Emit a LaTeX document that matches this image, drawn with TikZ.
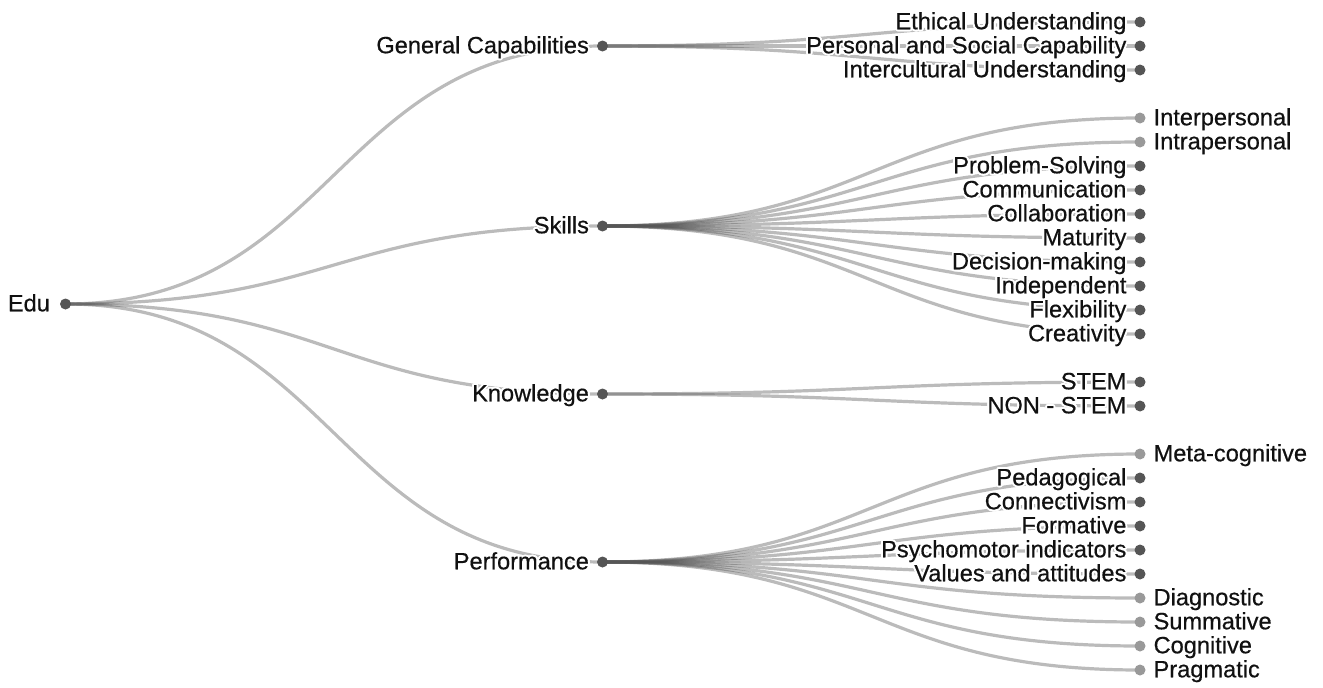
\documentclass[tikz,border=0pt]{standalone}
\usepackage{fontspec}
\setmainfont{Liberation Sans}[BoldFont=Liberation Sans,BoldFeatures={FakeBold=0.5}]
\usepackage{contour}
\contourlength{1.8pt}
\contournumber{24}
\usetikzlibrary{calc}
\definecolor{linkc}{HTML}{555555}
\definecolor{darkdot}{HTML}{555555}
\definecolor{lightdot}{HTML}{999999}
\definecolor{txt}{HTML}{111111}
\pgfdeclarelayer{bg}
\pgfsetlayers{bg,main}
\tikzset{
  dotd/.style={circle,fill=darkdot,inner sep=0pt,minimum size=11pt},
  dotl/.style={circle,fill=lightdot,inner sep=0pt,minimum size=11pt},
  lblfont/.style={font=\fontsize{23.6}{28}\selectfont\bfseries,text=txt,inner sep=0pt},
  lblL/.style={lblfont,anchor=base east,xshift=-13.4pt,yshift=-7.3pt},
  lblR/.style={lblfont,anchor=base west,xshift=13.4pt,yshift=-7.3pt},
  link/.style={draw=linkc,draw opacity=0.4,line width=3.2pt}
}
\newcommand\treelink[2]{\draw[link] let \p1=(#1),\p2=(#2) in (\p1) .. controls ({0.5*\x1+0.5*\x2},\y1) and ({0.5*\x1+0.5*\x2},\y2) .. (\p2);}
\begin{document}
\begin{tikzpicture}[x=1pt,y=-1pt]
\useasboundingbox (0,0) rectangle (1323,688);
% root and level 1
\node[dotd] (edu) at (65.5,304) {};
\node[dotd] (gc) at (602.5,46) {};
\node[dotd] (sk) at (602.5,226) {};
\node[dotd] (kn) at (602.5,394) {};
\node[dotd] (pf) at (602.5,562) {};
% leaves, labels left (dark)
\foreach \nm/\yy/\pa in {eu/22/gc, ps/46/gc, iu/70/gc,
  prs/166/sk, com/190/sk, col/214/sk, mat/238/sk, dec/262/sk, ind/286/sk, fle/310/sk, cre/334/sk,
  stem/382/kn, nstem/406/kn,
  ped/478/pf, con/502/pf, for/526/pf, psy/550/pf, val/574/pf}
  {\node[dotd] (\nm) at (1140,\yy) {};
   \begin{pgfonlayer}{bg}\treelink{\pa}{\nm}\end{pgfonlayer}}
% leaves, labels right (light)
\foreach \nm/\yy/\pa in {inter/118/sk, intra/142/sk,
  meta/454/pf, dia/598/pf, sum/622/pf, cog/646/pf, pra/670/pf}
  {\node[dotl] (\nm) at (1140,\yy) {};
   \begin{pgfonlayer}{bg}\treelink{\pa}{\nm}\end{pgfonlayer}}
\begin{pgfonlayer}{bg}
\treelink{edu}{gc}
\treelink{edu}{sk}
\treelink{edu}{kn}
\treelink{edu}{pf}
\end{pgfonlayer}
% labels
\node[lblL,xshift=-2pt] (edu-t) at (edu) {\contour{white}{Edu}};
\node[lblL] (gc-t) at (gc) {\contour{white}{General Capabilities}};
\node[lblL] (sk-t) at (sk) {\contour{white}{Skills}};
\node[lblL] (kn-t) at (kn) {\contour{white}{Knowledge}};
\node[lblL] (pf-t) at (pf) {\contour{white}{Performance}};
\foreach \nm/\tx in {eu/Ethical Understanding, ps/Personal and Social Capability, iu/Intercultural Understanding,
  prs/Problem-Solving, com/Communication, col/Collaboration, mat/Maturity, dec/Decision-making,
  ind/Independent, fle/Flexibility, cre/Creativity, stem/STEM, nstem/NON - STEM,
  ped/Pedagogical, con/Connectivism, for/Formative, psy/Psychomotor indicators, val/Values and attitudes}
  {\node[lblL] (\nm-t) at (\nm) {\contour{white}{\tx}};}
\foreach \nm/\tx in {inter/Interpersonal, intra/Intrapersonal, meta/Meta-cognitive,
  dia/Diagnostic, sum/Summative, cog/Cognitive, pra/Pragmatic}
  {\node[lblR] (\nm-t) at (\nm) {\contour{white}{\tx}};}
\end{tikzpicture}
\end{document}
